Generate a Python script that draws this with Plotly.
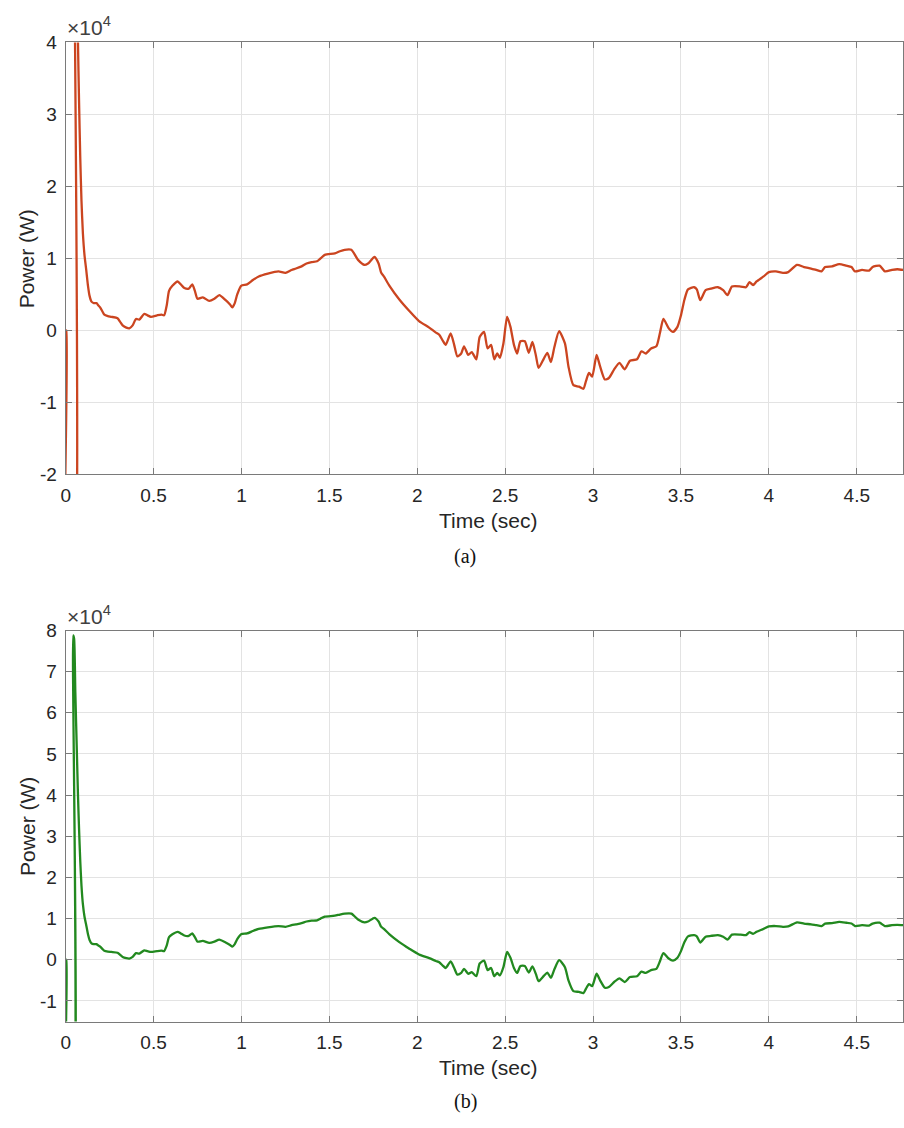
import plotly.graph_objects as go

# Simulated power waveform, in units of 10^4 W
time_s = [
    0.000, 0.004, 0.006, 0.034, 0.043, 0.048, 0.055, 0.064, 0.070, 0.076,
    0.083, 0.090, 0.098, 0.107, 0.117, 0.127, 0.136, 0.147, 0.160, 0.175,
    0.185, 0.196, 0.210, 0.220, 0.240, 0.260, 0.295, 0.310, 0.324, 0.345,
    0.362, 0.381, 0.400, 0.419, 0.447, 0.465, 0.485, 0.520, 0.545, 0.560,
    0.575, 0.588, 0.607, 0.637, 0.655, 0.675, 0.700, 0.720, 0.735, 0.750,
    0.780, 0.817, 0.846, 0.874, 0.910, 0.935, 0.948, 0.962, 0.976, 0.998,
    1.032, 1.065, 1.098, 1.150, 1.210, 1.250, 1.285, 1.310, 1.342, 1.370,
    1.399, 1.430, 1.450, 1.474, 1.531, 1.560, 1.587, 1.625, 1.663, 1.700,
    1.720, 1.757, 1.780, 1.795, 1.810, 1.842, 1.898, 1.955, 2.010, 2.068,
    2.106, 2.125, 2.145, 2.162, 2.190, 2.210, 2.228, 2.250, 2.266, 2.290,
    2.310, 2.336, 2.355, 2.380, 2.400, 2.420, 2.438, 2.455, 2.470, 2.490,
    2.511, 2.530, 2.550, 2.568, 2.587, 2.612, 2.634, 2.655, 2.675, 2.690,
    2.720, 2.740, 2.760, 2.780, 2.807, 2.840, 2.860, 2.888, 2.920, 2.945,
    2.960, 2.977, 2.995, 3.020, 3.040, 3.067, 3.090, 3.120, 3.150, 3.180,
    3.210, 3.250, 3.275, 3.300, 3.330, 3.360, 3.380, 3.400, 3.430, 3.455,
    3.480, 3.500, 3.520, 3.540, 3.575, 3.590, 3.610, 3.640, 3.670, 3.710,
    3.740, 3.765, 3.790, 3.840, 3.870, 3.890, 3.910, 3.930, 3.970, 4.000,
    4.040, 4.080, 4.110, 4.160, 4.200, 4.240, 4.270, 4.300, 4.320, 4.360,
    4.400, 4.440, 4.470, 4.490, 4.530, 4.570, 4.590, 4.630, 4.660, 4.700,
    4.730, 4.765,
]

power_e4 = [
    0.00, 0.00, -5.00, -5.00, 7.88, 7.80, 6.50, 5.00, 4.00, 3.20,
    2.40, 1.80, 1.35, 1.05, 0.84, 0.62, 0.48, 0.40, 0.38, 0.38,
    0.35, 0.32, 0.26, 0.22, 0.20, 0.19, 0.17, 0.12, 0.07, 0.04,
    0.03, 0.07, 0.16, 0.15, 0.23, 0.21, 0.19, 0.21, 0.22, 0.21,
    0.35, 0.55, 0.62, 0.68, 0.64, 0.59, 0.58, 0.64, 0.55, 0.44,
    0.46, 0.41, 0.44, 0.49, 0.42, 0.36, 0.32, 0.38, 0.50, 0.62,
    0.64, 0.70, 0.75, 0.79, 0.82, 0.80, 0.84, 0.86, 0.89, 0.93,
    0.95, 0.96, 1.00, 1.05, 1.07, 1.10, 1.12, 1.12, 0.98, 0.91,
    0.93, 1.02, 0.93, 0.80, 0.75, 0.62, 0.43, 0.27, 0.13, 0.04,
    -0.03, -0.06, -0.14, -0.20, -0.04, -0.20, -0.36, -0.32, -0.22, -0.34,
    -0.30, -0.40, -0.09, -0.02, -0.25, -0.20, -0.40, -0.32, -0.38, -0.18,
    0.19, 0.05, -0.20, -0.32, -0.15, -0.15, -0.31, -0.16, -0.35, -0.52,
    -0.39, -0.31, -0.44, -0.23, -0.01, -0.18, -0.50, -0.76, -0.78, -0.81,
    -0.70, -0.59, -0.64, -0.34, -0.50, -0.68, -0.66, -0.54, -0.45, -0.54,
    -0.42, -0.40, -0.29, -0.32, -0.25, -0.22, -0.04, 0.16, 0.03, -0.02,
    0.05, 0.21, 0.43, 0.57, 0.60, 0.57, 0.42, 0.56, 0.58, 0.60,
    0.56, 0.49, 0.61, 0.61, 0.60, 0.67, 0.63, 0.68, 0.75, 0.81,
    0.82, 0.80, 0.81, 0.91, 0.88, 0.86, 0.84, 0.82, 0.88, 0.89,
    0.92, 0.90, 0.88, 0.82, 0.84, 0.83, 0.88, 0.90, 0.82, 0.84,
    0.85, 0.84,
]

x_ticks = [0, 0.5, 1, 1.5, 2, 2.5, 3, 3.5, 4, 4.5]
x_tick_text = ["0", "0.5", "1", "1.5", "2", "2.5", "3", "3.5", "4", "4.5"]
y_ticks_a = [-2, -1, 0, 1, 2, 3, 4]
y_ticks_b = [-1, 0, 1, 2, 3, 4, 5, 6, 7, 8]
panel_labels = ["(a)", "(b)"]

W, H = 904, 1128
FONT = "Liberation Sans, Arial, sans-serif"
TXT = "#262626"
AX = "#7a7a7a"
GRID = "#e3e3e3"


def px(x):
    return x / W


def py(y):
    return 1 - y / H


fig = go.Figure()
fig.add_trace(go.Scatter(x=time_s, y=power_e4, mode="lines",
                         line=dict(color="#CB4520", width=2.3,
                                   shape="spline", smoothing=0.6),
                         xaxis="x", yaxis="y", showlegend=False))
fig.add_trace(go.Scatter(x=time_s, y=power_e4, mode="lines",
                         line=dict(color="#22891F", width=2.3,
                                   shape="spline", smoothing=0.6),
                         xaxis="x2", yaxis="y2", showlegend=False))

x_left, x_right = 61, 903
common_x = dict(range=[0, 4.763], tickvals=x_ticks, ticktext=x_tick_text,
                showgrid=True, gridcolor=GRID, gridwidth=1,
                showline=True, linecolor=AX, linewidth=1, mirror="ticks",
                ticks="inside", ticklen=6, tickcolor=AX,
                tickfont=dict(family=FONT, size=19, color=TXT),
                zeroline=False, domain=[px(x_left), px(x_right)],
                ticklabelstandoff=4)
common_y = dict(showgrid=True, gridcolor=GRID, gridwidth=1,
                showline=True, linecolor=AX, linewidth=1, mirror="ticks",
                ticks="inside", ticklen=6, tickcolor=AX,
                tickfont=dict(family=FONT, size=19, color=TXT),
                zeroline=False, ticklabelstandoff=4)

# panel pixel extents (top, bottom)
a_top, a_bot = 33, 473.3
b_top, b_bot = 632.3, 1030.7

fig.update_layout(
    width=W, height=H,
    margin=dict(l=0, r=0, t=0, b=0),
    paper_bgcolor="white", plot_bgcolor="white",
    xaxis=dict(anchor="y", **common_x),
    yaxis=dict(anchor="x", range=[-2, 4], tickvals=y_ticks_a,
               ticktext=[str(v) for v in y_ticks_a],
               domain=[py(a_bot), py(a_top)], **common_y),
    xaxis2=dict(anchor="y2", **common_x),
    yaxis2=dict(anchor="x2", range=[-1.5, 8], tickvals=y_ticks_b,
                ticktext=[str(v) for v in y_ticks_b],
                domain=[py(b_bot), py(b_top)], **common_y),
)

annotations = []
for top, bot, cap_y, lab in [(a_top, a_bot, 557, panel_labels[0]),
                              (b_top, b_bot, 1112, panel_labels[1])]:
    # multiplier above the y axis
    annotations.append(dict(x=px(60), y=py(top - 1), xref="paper", yref="paper",
                            text="×10<sup>4</sup>", showarrow=False,
                            xanchor="left", yanchor="bottom",
                            font=dict(family=FONT, size=21, color="#404040")))
    # y axis title
    annotations.append(dict(x=px(22), y=py((top + bot) / 2), xref="paper", yref="paper",
                            text="Power (W)", showarrow=False, textangle=-90,
                            xanchor="center", yanchor="middle",
                            font=dict(family=FONT, size=21, color=TXT)))
    # x axis title
    annotations.append(dict(x=px(486), y=py(bot + 47), xref="paper", yref="paper",
                            text="Time (sec)", showarrow=False,
                            xanchor="center", yanchor="middle",
                            font=dict(family=FONT, size=21, color=TXT)))
    # panel caption
    annotations.append(dict(x=px(463), y=py(cap_y), xref="paper", yref="paper",
                            text=lab, showarrow=False,
                            xanchor="center", yanchor="middle",
                            font=dict(family="Liberation Serif, Times New Roman, serif",
                                      size=20, color="#111111")))

fig.update_layout(annotations=annotations)

fig.write_html("out.html")
